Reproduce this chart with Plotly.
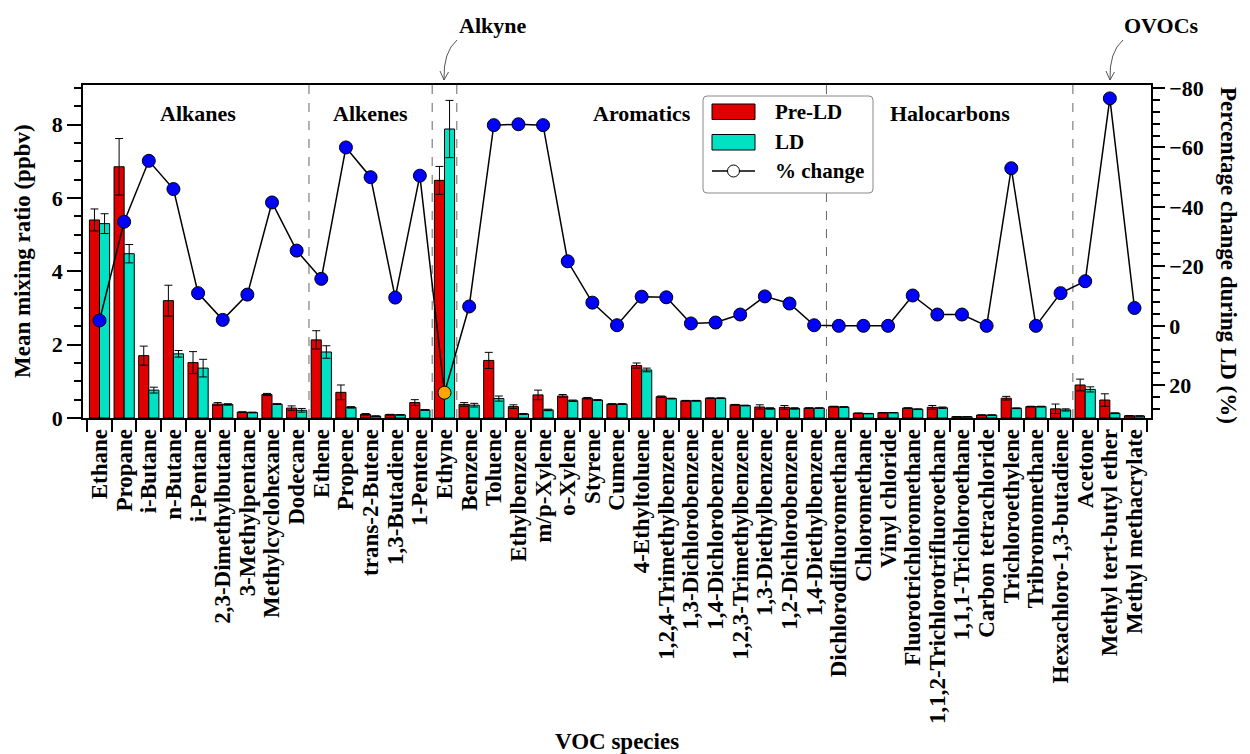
import plotly.graph_objects as go

species = [
    "Ethane", "Propane", "i-Butane", "n-Butane", "i-Pentane", "2,3-Dimethylbutane",
    "3-Methylpentane", "Methylcyclohexane", "Dodecane",
    "Ethene", "Propene", "trans-2-Butene", "1,3-Butadiene", "1-Pentene",
    "Ethyne",
    "Benzene", "Toluene", "Ethylbenzene", "m/p-Xylene", "o-Xylene", "Styrene", "Cumene",
    "4-Ethyltoluene", "1,2,4-Trimethylbenzene", "1,3-Dichlorobenzene", "1,4-Dichlorobenzene",
    "1,2,3-Trimethylbenzene", "1,3-Diethylbenzene", "1,2-Dichlorobenzene", "1,4-Diethylbenzene",
    "Dichlorodifluoromethane", "Chloromethane", "Vinyl chloride", "Fluorotrichloromethane",
    "1,1,2-Trichlorotrifluoroethane", "1,1,1-Trichloroethane", "Carbon tetrachloride",
    "Trichloroethylene", "Tribromomethane", "Hexachloro-1,3-butadiene",
    "Acetone", "Methyl tert-butyl ether", "Methyl methacrylate",
]
pre_ld = [5.40, 6.85, 1.70, 3.20, 1.51, 0.38, 0.16, 0.64, 0.27,
          2.13, 0.70, 0.10, 0.09, 0.42,
          6.48,
          0.37, 1.57, 0.31, 0.63, 0.60, 0.54, 0.38, 1.43, 0.58, 0.47, 0.54, 0.36, 0.30, 0.29, 0.27,
          0.31, 0.13, 0.145, 0.27, 0.29, 0.035, 0.08, 0.54, 0.31, 0.25,
          0.90, 0.49, 0.06]
ld = [5.30, 4.48, 0.76, 1.75, 1.36, 0.37, 0.15, 0.38, 0.21,
      1.80, 0.29, 0.05, 0.085, 0.22,
      7.88,
      0.35, 0.53, 0.11, 0.22, 0.47, 0.49, 0.38, 1.31, 0.53, 0.47, 0.54, 0.34, 0.26, 0.26, 0.27,
      0.30, 0.12, 0.145, 0.24, 0.28, 0.034, 0.08, 0.265, 0.31, 0.22,
      0.78, 0.13, 0.055]
pre_ld_err = [0.30, 0.77, 0.26, 0.42, 0.30, 0.04, 0.01, 0.03, 0.06,
              0.25, 0.20, 0.02, 0.01, 0.08,
              0.38,
              0.05, 0.22, 0.05, 0.13, 0.04, 0.02, 0.01, 0.07, 0.02, 0.01, 0.01, 0.01, 0.06, 0.05, 0.01,
              0.01, 0.005, 0.005, 0.01, 0.05, 0.003, 0.005, 0.05, 0.01, 0.13,
              0.16, 0.17, 0.005]
ld_err = [0.27, 0.25, 0.08, 0.09, 0.24, 0.02, 0.01, 0.01, 0.05,
          0.17, 0.02, 0.01, 0.005, 0.01,
          0.78,
          0.05, 0.07, 0.01, 0.02, 0.02, 0.01, 0.01, 0.05, 0.01, 0.01, 0.01, 0.01, 0.02, 0.02, 0.01,
          0.01, 0.005, 0.005, 0.01, 0.02, 0.003, 0.005, 0.01, 0.01, 0.03,
          0.07, 0.01, 0.003]
pct_change = [-1.8, -35.0, -55.5, -46.0, -11.0, -2.0, -10.5, -41.5, -25.3,
              -15.8, -60.0, -50.0, -9.5, -50.5,
              22.5,
              -6.5, -67.5, -67.8, -67.5, -21.7, -7.8, -0.2, -9.8, -9.6, -0.8, -1.1, -3.8, -9.9, -7.5, -0.2,
              0.0, 0.0, 0.0, -10.2, -3.8, -3.8, 0.0, -53.0, 0.0, -11.0,
              -15.0, -76.5, -6.0]
group_names = ["Alkanes", "Alkenes", "Alkyne", "Aromatics", "Halocarbons", "OVOCs"]
group_sizes = [9, 5, 1, 15, 10, 3]

FONT = "Liberation Serif"
RED = "#e10000"
CYAN = "#00e2c4"
BLUE = "#0000ff"
ORANGE = "#ffa500"
GREY = "#555555"

W, H = 1250, 754
ML, MR, MT, MB = 83, 99, 85, 336
PW = W - ML - MR
PH = H - MT - MB
XR = [-0.67, len(species) - 1 + 0.67]


def px(x):
    return (x - ML) / PW


def py(y):
    return (H - MB - y) / PH


def f(s, size=22):
    return dict(family=FONT, size=size, color="black", weight="bold")


fig = go.Figure()
fig.add_trace(go.Bar(
    x=species, y=pre_ld, name="Pre-LD",
    marker=dict(color=RED, line=dict(color="black", width=1)),
    error_y=dict(type="data", array=pre_ld_err, color="black", thickness=1, width=4),
))
fig.add_trace(go.Bar(
    x=species, y=ld, name="LD",
    marker=dict(color=CYAN, line=dict(color="black", width=1)),
    error_y=dict(type="data", array=ld_err, color="black", thickness=1, width=4),
))
marker_colors = [ORANGE if v > 0 else BLUE for v in pct_change]
fig.add_trace(go.Scatter(
    x=species, y=pct_change, name="% change", yaxis="y2", mode="lines+markers",
    line=dict(color="black", width=1.5),
    marker=dict(size=13, color=marker_colors, line=dict(color="black", width=1)),
))

shapes = []
annotations = []

# group separators and labels
start = 0
centers = []
for name, n in zip(group_names, group_sizes):
    centers.append(start + (n - 1) / 2)
    start += n
    if start < len(species):
        shapes.append(dict(type="line", xref="x", yref="paper", x0=start - 0.5, x1=start - 0.5,
                           y0=0, y1=1, line=dict(color="#666666", width=1, dash="dash"), layer="below"))

for name, c in zip(group_names, centers):
    if name in ("Alkyne", "OVOCs"):
        continue
    annotations.append(dict(text=name, xref="x", yref="paper", x=c, y=py(113),
                            showarrow=False, font=f(name, 22), xanchor="center", yanchor="middle"))

# Alkyne / OVOCs labels above plot with curved arrows
annotations.append(dict(text="Alkyne", xref="paper", yref="paper", x=px(492), y=py(25),
                        showarrow=False, font=f("", 22), xanchor="center", yanchor="middle"))
annotations.append(dict(text="OVOCs", xref="paper", yref="paper", x=px(1161), y=py(25),
                        showarrow=False, font=f("", 22), xanchor="center", yanchor="middle"))


def curved_arrow(x0, y0, cx, cy, x1, y1):
    shapes.append(dict(type="path", xref="paper", yref="paper",
                       path=f"M{px(x0)},{py(y0)} Q{px(cx)},{py(cy)} {px(x1)},{py(y1)}",
                       line=dict(color=GREY, width=1)))
    shapes.append(dict(type="path", xref="paper", yref="paper",
                       path=f"M{px(x1 - 4)},{py(y1 - 9)} L{px(x1)},{py(y1)} L{px(x1 + 4.5)},{py(y1 - 8)}",
                       line=dict(color=GREY, width=1)))


curved_arrow(457, 40, 443, 52, 444, 80)
curved_arrow(1123, 40, 1109, 52, 1110, 80)

# manual legend
lx0, ly0, lx1, ly1, r = 703, 96, 873, 193, 4
path = (f"M{px(lx0 + r)},{py(ly0)} L{px(lx1 - r)},{py(ly0)} Q{px(lx1)},{py(ly0)} {px(lx1)},{py(ly0 + r)} "
        f"L{px(lx1)},{py(ly1 - r)} Q{px(lx1)},{py(ly1)} {px(lx1 - r)},{py(ly1)} "
        f"L{px(lx0 + r)},{py(ly1)} Q{px(lx0)},{py(ly1)} {px(lx0)},{py(ly1 - r)} "
        f"L{px(lx0)},{py(ly0 + r)} Q{px(lx0)},{py(ly0)} {px(lx0 + r)},{py(ly0)} Z")
shapes.append(dict(type="path", xref="paper", yref="paper", path=path,
                   line=dict(color="#888888", width=1), fillcolor="white", layer="above"))
shapes.append(dict(type="rect", xref="paper", yref="paper", x0=px(712), x1=px(755), y0=py(104), y1=py(119.5),
                   fillcolor=RED, line=dict(color="black", width=1), layer="above"))
shapes.append(dict(type="rect", xref="paper", yref="paper", x0=px(712), x1=px(755), y0=py(134.5), y1=py(150),
                   fillcolor=CYAN, line=dict(color="black", width=1), layer="above"))
shapes.append(dict(type="line", xref="paper", yref="paper", x0=px(712), x1=px(755), y0=py(171), y1=py(171),
                   line=dict(color="black", width=1.5), layer="above"))
shapes.append(dict(type="circle", xref="paper", yref="paper", x0=px(727.5), x1=px(739.5), y0=py(165), y1=py(177),
                   fillcolor="white", line=dict(color="black", width=1), layer="above"))
for txt, yy in (("Pre-LD", 112), ("LD", 142), ("% change", 171)):
    annotations.append(dict(text=txt, xref="paper", yref="paper", x=px(773), y=py(yy),
                            showarrow=False, font=f("", 21), xanchor="left", yanchor="middle"))

# axis titles
annotations.append(dict(text="Mean mixing ratio (ppbv)", xref="paper", yref="paper", x=px(22), y=py(251),
                        showarrow=False, textangle=-90, font=f("", 23), xanchor="center", yanchor="middle"))
annotations.append(dict(text="Percentage change during LD (%)", xref="paper", yref="paper", x=px(1229), y=py(255),
                        showarrow=False, textangle=90, font=f("", 23), xanchor="center", yanchor="middle"))
annotations.append(dict(text="VOC species", xref="paper", yref="paper", x=px(617), y=py(741),
                        showarrow=False, font=f("", 23), xanchor="center", yanchor="middle"))

fig.update_layout(
    width=W, height=H,
    margin=dict(l=ML, r=MR, t=MT, b=MB, autoexpand=False),
    paper_bgcolor="white", plot_bgcolor="white",
    barmode="group", bargap=0.18, bargroupgap=0,
    showlegend=False,
    font=dict(family=FONT, color="black"),
    shapes=shapes, annotations=annotations,
    xaxis=dict(
        type="category", range=XR, tickmode="linear", tick0=0, dtick=1,
        tickson="boundaries", ticks="outside", ticklen=12, tickwidth=1.5,
        tickcolor="black", tickangle=-90, tickfont=f("", 23), showline=True, linecolor="black",
        linewidth=1.5, mirror=True, showgrid=False, zeroline=False,
    ),
    yaxis=dict(
        range=[0, 9.08], tick0=0, dtick=2, ticks="outside", ticklen=14, tickwidth=1.5, tickcolor="black",
        minor=dict(dtick=0.5, ticks="outside", ticklen=7, tickwidth=1.5, tickcolor="black"),
        tickfont=f("", 22), showline=True, linecolor="black", linewidth=1.5, showgrid=False, zeroline=False,
    ),
    yaxis2=dict(
        overlaying="y", side="right", range=[31, -81], tick0=0, dtick=20, ticks="outside", ticklen=12,
        tickwidth=1.5, tickcolor="black",
        minor=dict(dtick=4, ticks="outside", ticklen=7, tickwidth=1.5, tickcolor="black"),
        tickfont=f("", 22), showline=True, linecolor="black", linewidth=1.5, showgrid=False, zeroline=False,
    ),
)

fig.write_html("out.html")
